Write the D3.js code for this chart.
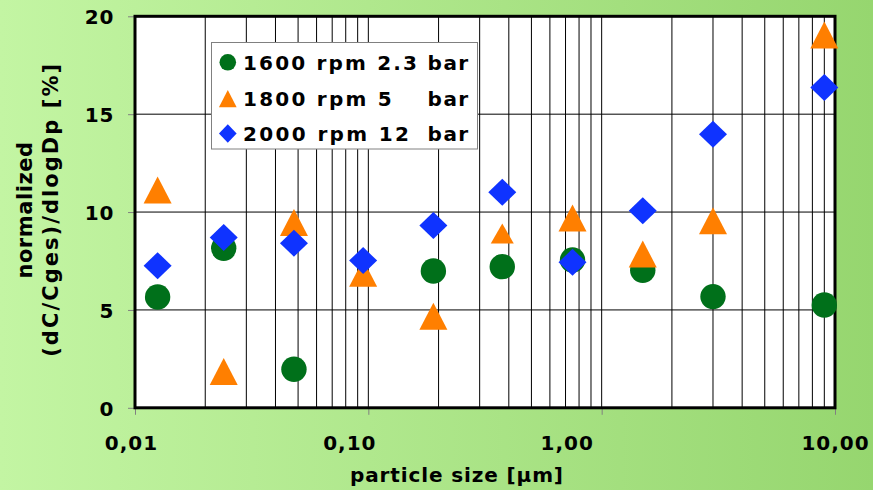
<!DOCTYPE html>
<html>
<head>
<meta charset="utf-8">
<script src="https://cdn.jsdelivr.net/npm/d3@7"></script>
<style>
  html, body { margin: 0; padding: 0; overflow: hidden; }
  svg { display: block; }
  text { font-family: "DejaVu Sans", Verdana, sans-serif; font-weight: bold; fill: #000; }
</style>
</head>
<body>
<svg id="chart" width="873" height="490"></svg>
<script>
// Particle size classes [µm] and normalized size distributions per operating point
const particleSize = [0.0125, 0.024, 0.048, 0.095, 0.19, 0.375, 0.75, 1.5, 3.0, 9.0];
const rpm1600 = [5.66, 8.15, 1.97, null, 6.99, 7.21, 7.55, 7.03, 5.68, 5.25];
const rpm1800 = [11.13, 1.85, 9.47, 6.87, 4.68, 8.90, 9.70, 7.86, 9.55, 19.05];
const rpm2000 = [7.26, 8.70, 8.41, 7.52, 9.31, 11.01, 7.43, 10.07, 13.98, 16.36];

const seriesLabels = ["1600 rpm 2.3", "1800 rpm 5", "2000 rpm 12"];
const seriesUnit = "bar";

const xTickValues = [0.01, 0.1, 1, 10];
const xTickLabels = ["0,01", "0,10", "1,00", "10,00"];
const yTickValues = [0, 5, 10, 15, 20];

const xTitle = "particle size [µm]";
const yTitleLines = ["normalized", "(dC/Cges)/dlogDp [%]"];

// ---- layout ----
const W = 873, H = 490;
const plot = { left: 135, right: 835, top: 16.3, bottom: 407.8 };
const xLabelShift = [-4, -19, -35, 0];   // horizontal nudge of each x tick label

const svg = d3.select("#chart");

// background
const defs = svg.append("defs");
const bg = defs.append("linearGradient").attr("id", "bg")
  .attr("x1", "0%").attr("y1", "0%").attr("x2", "100%").attr("y2", "0%");
bg.append("stop").attr("offset", "0%").attr("stop-color", "#c3f5a3");
bg.append("stop").attr("offset", "100%").attr("stop-color", "#96d66f");
svg.append("rect").attr("width", W).attr("height", H).attr("fill", "url(#bg)");

const x = d3.scaleLog().domain([0.01, 10]).range([plot.left, plot.right]);
const y = d3.scaleLinear().domain([0, 20]).range([plot.bottom, plot.top]);

// plot area
svg.append("rect")
  .attr("x", plot.left).attr("y", plot.top)
  .attr("width", plot.right - plot.left).attr("height", plot.bottom - plot.top)
  .attr("fill", "#fff");

// vertical log grid (every 1..9 × 10^k inside the domain)
const gridX = x.ticks().filter(v => v > 0.0100001 && v < 9.9999);
svg.append("g").selectAll("line").data(gridX).join("line")
  .attr("x1", d => x(d)).attr("x2", d => x(d))
  .attr("y1", plot.top).attr("y2", plot.bottom)
  .attr("stroke", "#000").attr("stroke-width", 1);

// horizontal grid
svg.append("g").selectAll("line").data(yTickValues.filter(v => v > 0 && v < 20)).join("line")
  .attr("x1", plot.left).attr("x2", plot.right)
  .attr("y1", d => y(d)).attr("y2", d => y(d))
  .attr("stroke", "#000").attr("stroke-width", 1);

// y axis
const yAxis = svg.append("g").attr("transform", `translate(${plot.left},0)`)
  .call(d3.axisLeft(y).tickValues(yTickValues).tickFormat(d => d).tickSize(7).tickPadding(13.5));
yAxis.select(".domain").remove();
yAxis.selectAll(".tick line").attr("stroke", "#808080");
yAxis.selectAll(".tick text")
  .attr("font-size", 20).attr("letter-spacing", 1).attr("dy", "0.38em")
  .attr("font-family", null);

// x axis
const xAxis = svg.append("g").attr("transform", `translate(0,${plot.bottom})`)
  .call(d3.axisBottom(x).tickValues(xTickValues).tickFormat((d, i) => xTickLabels[i]).tickSize(7).tickPadding(21));
xAxis.select(".domain").remove();
xAxis.selectAll(".tick line").attr("stroke", "#808080");
xAxis.selectAll(".tick text")
  .attr("font-size", 20).attr("letter-spacing", 1)
  .attr("dx", (d, i) => xLabelShift[i])
  .attr("font-family", null);

// plot border
svg.append("rect")
  .attr("x", plot.left).attr("y", plot.top)
  .attr("width", plot.right - plot.left).attr("height", plot.bottom - plot.top)
  .attr("fill", "none").attr("stroke", "#000").attr("stroke-width", 3);

// marker shapes
const trianglePath = (w, h) => `M0,${-h / 2}L${w / 2},${h / 2}L${-w / 2},${h / 2}Z`;
const diamondPath = (w, h) => `M0,${-h / 2}L${w / 2},0L0,${h / 2}L${-w / 2},0Z`;

const COLORS = { green: "#00701a", orange: "#ff7f00", blue: "#0f33ff" };

const pts = vals => particleSize.map((p, i) => ({ p, v: vals[i] })).filter(d => d.v != null);

// 1600 rpm — circles
svg.append("g").selectAll("circle").data(pts(rpm1600)).join("circle")
  .attr("cx", d => x(d.p)).attr("cy", d => y(d.v)).attr("r", 12.7)
  .attr("fill", COLORS.green);

// 1800 rpm — triangles (the 0.375 µm point is plotted with a smaller marker)
svg.append("g").selectAll("path").data(pts(rpm1800)).join("path")
  .attr("transform", d => `translate(${x(d.p)},${y(d.v)})`)
  .attr("d", d => d.p === 0.375 ? trianglePath(23, 20) : trianglePath(28, 27))
  .attr("fill", COLORS.orange);

// 2000 rpm — diamonds
svg.append("g").selectAll("path").data(pts(rpm2000)).join("path")
  .attr("transform", d => `translate(${x(d.p)},${y(d.v)})`)
  .attr("d", diamondPath(28, 27))
  .attr("fill", COLORS.blue);

// axis titles
svg.append("text")
  .attr("x", 456.5).attr("y", 482)
  .attr("text-anchor", "middle").attr("font-size", 20)
  .attr("textLength", 213).attr("lengthAdjust", "spacing")
  .text(xTitle);

const yTitle = svg.append("g").attr("transform", "translate(0,210.3) rotate(-90)");
yTitle.append("text")
  .attr("x", 0).attr("y", 32).attr("text-anchor", "middle").attr("font-size", 21)
  .attr("textLength", 136.6).attr("lengthAdjust", "spacing")
  .text(yTitleLines[0]);
yTitle.append("text")
  .attr("x", 0).attr("y", 58.3).attr("text-anchor", "middle").attr("font-size", 21)
  .attr("textLength", 293).attr("lengthAdjust", "spacing")
  .text(yTitleLines[1]);

// legend
const legend = svg.append("g");
legend.append("rect")
  .attr("x", 211.5).attr("y", 42.5).attr("width", 266).attr("height", 106.5)
  .attr("fill", "#fff").attr("stroke", "#808080").attr("stroke-width", 1);

const rowY = [62.3, 98.7, 133.5];          // row centres
const labelLen = [174, 148.7, 166];
const legendMarkers = [
  g => g.append("circle").attr("r", 8.3).attr("fill", COLORS.green),
  g => g.append("path").attr("d", trianglePath(17.7, 17.3)).attr("fill", COLORS.orange),
  g => g.append("path").attr("d", diamondPath(17.7, 18.3)).attr("fill", COLORS.blue)
];
seriesLabels.forEach((lab, i) => {
  const m = legend.append("g").attr("transform", `translate(227.8,${rowY[i]})`);
  legendMarkers[i](m);
  legend.append("text")
    .attr("x", 243).attr("y", rowY[i] + 7.2).attr("font-size", 20)
    .attr("textLength", labelLen[i]).attr("lengthAdjust", "spacing")
    .text(lab);
  legend.append("text")
    .attr("x", 427.6).attr("y", rowY[i] + 7.2).attr("font-size", 20)
    .attr("textLength", 40.6).attr("lengthAdjust", "spacing")
    .text(seriesUnit);
});
</script>
</body>
</html>
